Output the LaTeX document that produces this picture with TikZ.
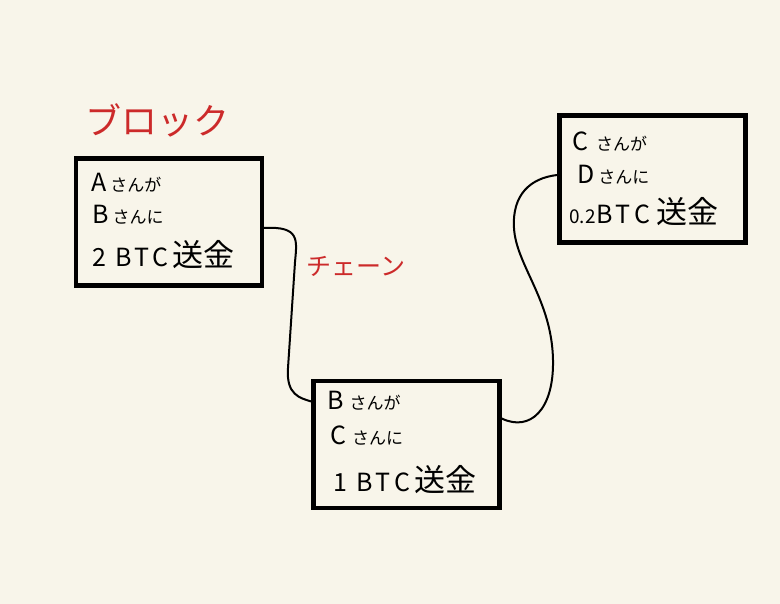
\documentclass[tikz,border=0pt]{standalone}
\usepackage{fontspec}
\setmainfont{Noto Sans CJK JP}
\usetikzlibrary{calc}
\definecolor{paper}{HTML}{F8F5EA}
\definecolor{penred}{HTML}{CC2A2A}
\newcommand\knsm[1]{{\fontsize{17}{17}\selectfont #1}}
\newcommand\ltr[1]{{\fontsize{25}{25}\selectfont #1}}
\newcommand\skn[1]{{\fontsize{31}{31}\selectfont #1}}
\tikzset{
  blk/.style={draw=black, line width=4.5pt, rectangle, inner sep=0pt, minimum width=186pt, minimum height=127pt},
  txt/.style={anchor=west, inner sep=0pt, text=black},
  lbl/.style={inner sep=0pt, text=penred},
  link/.style={draw=black, line width=2pt, line cap=round}
}
\begin{document}
\begin{tikzpicture}[x=1pt,y=-1pt]
\fill[paper] (0,0) rectangle (780,604);
\useasboundingbox (0,0) rectangle (780,604);

\node[blk] (b1) at (169,222) {};
\node[blk] (b2) at (652.5,179) {};
\node[blk] (b3) at (406.5,444.5) {};

\node[lbl, font=\fontsize{36}{36}\selectfont] (t1) at (157,120) {ブロック};
\node[lbl, font=\fontsize{25}{25}\selectfont] (t2) at (356,266) {チェーン};

\node[txt] (a1) at (91,183) {\ltr{A}\hspace{4pt}\knsm{さんが}};
\node[txt] (a2) at (92,215) {\ltr{B}\hspace{4pt}\knsm{さんに}};
\node[txt] (a3) at (92,255) {\ltr{2}\hspace{9pt}\ltr{B}\hspace{3pt}\ltr{T}\hspace{3pt}\ltr{C}\hspace{4pt}\skn{送金}};

\node[txt] (c1) at (572,142) {\ltr{C}\hspace{8pt}\knsm{さんが}};
\node[txt] (c2) at (577,175) {\ltr{D}\hspace{4pt}\knsm{さんに}};
\node[txt] (c3) at (569,212) {\fontsize{19}{19}\selectfont 0.2\hspace{1pt}\ltr{B}\hspace{3pt}\ltr{T}\hspace{4pt}\ltr{C}\hspace{6pt}\skn{送金}};

\node[txt] (d1) at (327,401) {\ltr{B}\hspace{6pt}\knsm{さんが}};
\node[txt] (d2) at (330,436) {\ltr{C}\hspace{6pt}\knsm{さんに}};
\node[txt] (d3) at (333,480) {\ltr{1}\hspace{9pt}\ltr{B}\hspace{3pt}\ltr{T}\hspace{4pt}\ltr{C}\hspace{4pt}\skn{送金}};

\draw[link] ($(b1.east)+(0,6)$) .. controls (300,226) and (297,240) .. (295,262)
  -- (288,368) .. controls (286,395) and (300,398) .. ($(b3.west)+(0,-43)$);
\draw[link] ($(b2.west)+(0,-4)$) .. controls (530,178) and (512,195) .. (514,228)
  .. controls (516,265) and (552,300) .. (553,360)
  .. controls (554,410) and (530,432) .. ($(b3.east)+(0,-26)$);
\end{tikzpicture}
\end{document}
